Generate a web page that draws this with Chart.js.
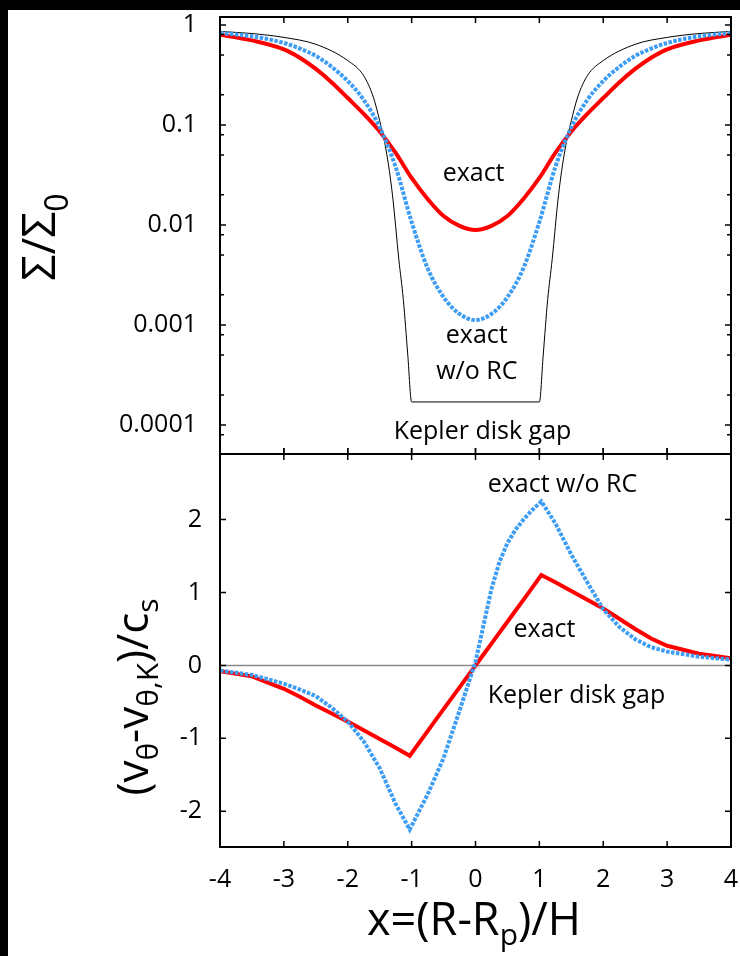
<!DOCTYPE html>
<html>
<head>
<meta charset="utf-8">
<script src="https://cdn.jsdelivr.net/npm/chart.js@4.4.1/dist/chart.umd.min.js"></script>
<style>
  body { margin: 0; background: #fff; width: 740px; height: 956px; position: relative; overflow: hidden; }
  #topBar { position: absolute; left: 0; top: 0; width: 740px; height: 10px; background: #000; }
  #leftBar { position: absolute; left: 0; top: 0; width: 8px; height: 956px; background: #000; }
  canvas { position: absolute; left: 0; }
</style>
</head>
<body>
<div id="topBar"></div>
<div id="leftBar"></div>
<canvas id="sigmaChart" width="740" height="454" style="top:0"></canvas>
<canvas id="velChart" width="740" height="516" style="top:440px"></canvas>
<script>
// x ticks shared by both panels
const xTickValues = [-4, -3, -2, -1, 0, 1, 2, 3, 4];
const xTickLabels = ["-4", "-3", "-2", "-1", "0", "1", "2", "3", "4"];

// top panel: surface density (log)
const sigmaTickValues = [1e-4, 1e-3, 1e-2, 0.1, 1];
const sigmaTickLabels = ["0.0001", "0.001", "0.01", "0.1", "1"];
const sigmaX = [-4, -3.5, -3, -2.75, -2.5, -2.25, -2, -1.75, -1.5, -1.25, -1, -0.75, -0.5, -0.25, 0, 0.25, 0.5, 0.75, 1, 1.25, 1.5, 1.75, 2, 2.25, 2.5, 2.75, 3, 3.5, 4];
const sigmaExact = [0.80, 0.70, 0.57, 0.47, 0.363, 0.266, 0.186, 0.129, 0.086, 0.0525, 0.0295, 0.0182, 0.0123, 0.0098, 0.0089, 0.0098, 0.0123, 0.0182, 0.0295, 0.0525, 0.086, 0.129, 0.186, 0.266, 0.363, 0.47, 0.57, 0.70, 0.80];
const sigmaNoRC = [0.83, 0.77, 0.66, 0.58, 0.49, 0.38, 0.275, 0.178, 0.095, 0.038, 0.0107, 0.0037, 0.0019, 0.00129, 0.00112, 0.00129, 0.0019, 0.0037, 0.0107, 0.038, 0.095, 0.178, 0.275, 0.38, 0.49, 0.58, 0.66, 0.77, 0.83];
const keplerX = [-4, -3.5, -3, -2.5, -2, -1.75, -1.6, -1.5, -1.4, -1.3, -1.2, -1.13, -1.06, -1, 1, 1.06, 1.13, 1.2, 1.3, 1.4, 1.5, 1.6, 1.75, 2, 2.5, 3, 3.5, 4];
const keplerSigma = [0.86, 0.82, 0.75, 0.64, 0.44, 0.31, 0.19, 0.11, 0.056, 0.02, 0.0045, 0.0018, 0.0005, 0.00017, 0.00017, 0.0005, 0.0018, 0.0045, 0.02, 0.056, 0.11, 0.19, 0.31, 0.44, 0.64, 0.75, 0.82, 0.86];

// bottom panel: azimuthal velocity deviation
const velTickValues = [-2, -1, 0, 1, 2];
const velTickLabels = ["-2", "-1", "0", "1", "2"];
const velX = [-4, -3.5, -3, -2.75, -2.5, -2.25, -2, -1.75, -1.5, -1.25, -1.03, -0.75, -0.5, -0.25, 0, 0.125, 0.25, 0.375, 0.5, 0.625, 0.75, 0.875, 1.03, 1.25, 1.5, 1.75, 2, 2.25, 2.5, 2.75, 3, 3.5, 4];
const velExact = [-0.08, -0.15, -0.32, -0.43, -0.55, -0.66, -0.77, -0.89, -1.01, -1.13, -1.24, -0.90, -0.60, -0.30, 0, 0.15, 0.30, 0.45, 0.60, 0.75, 0.90, 1.05, 1.24, 1.14, 1.02, 0.90, 0.78, 0.64, 0.50, 0.37, 0.27, 0.16, 0.10];
const velNoRC = [-0.07, -0.13, -0.25, -0.33, -0.42, -0.58, -0.77, -1.04, -1.41, -1.90, -2.25, -1.77, -1.27, -0.62, 0.05, 0.55, 1.05, 1.42, 1.68, 1.86, 2.0, 2.12, 2.25, 1.95, 1.52, 1.14, 0.77, 0.53, 0.36, 0.25, 0.19, 0.12, 0.08];

const FONT = '"Open Sans", "Noto Sans", sans-serif';
const RED = "#ff0000";
const BLUE = "#3d9df5";

Chart.defaults.font.family = FONT;
Chart.defaults.color = "#000";

const pts = (xs, ys) => xs.map((x, i) => ({ x: x, y: ys[i] }));

// draw text made of pieces: [text, size, dy]
function drawParts(ctx, parts, x, y, align) {
  let w = 0;
  parts.forEach(p => { ctx.font = p[1] + "px " + FONT; w += ctx.measureText(p[0]).width; });
  let cx = align === "center" ? x - w / 2 : x;
  ctx.textAlign = "left";
  ctx.textBaseline = "alphabetic";
  parts.forEach(p => {
    ctx.font = p[1] + "px " + FONT;
    ctx.fillText(p[0], cx, y + p[2]);
    cx += ctx.measureText(p[0]).width;
  });
}

// frame, inward ticks, labels
function makeDecor(cfg) {
  return {
    id: "decor",
    beforeDatasetsDraw(chart) {
      if (!cfg.zeroLine) return;
      const { ctx, chartArea: a, scales: { y } } = chart;
      ctx.save();
      ctx.strokeStyle = "#8a8a8a";
      ctx.lineWidth = 1.5;
      ctx.beginPath();
      ctx.moveTo(a.left, y.getPixelForValue(0));
      ctx.lineTo(a.right, y.getPixelForValue(0));
      ctx.stroke();
      ctx.restore();
    },
    afterDatasetsDraw(chart) {
      const { ctx, chartArea: a, scales: { x, y } } = chart;
      ctx.save();
      ctx.strokeStyle = "#000";
      ctx.lineWidth = 2;
      ctx.strokeRect(a.left, a.top, a.right - a.left, a.bottom - a.top);
      ctx.lineWidth = 1.5;
      ctx.beginPath();
      xTickValues.forEach(v => {
        const px = x.getPixelForValue(v);
        ctx.moveTo(px, a.top - (cfg.crossTop ? 6 : 0));
        ctx.lineTo(px, a.top + 6);
        ctx.moveTo(px, a.bottom);
        ctx.lineTo(px, a.bottom - 6);
      });
      cfg.yMajor.forEach(v => {
        const py = y.getPixelForValue(v);
        ctx.moveTo(a.left, py); ctx.lineTo(a.left + 6, py);
        ctx.moveTo(a.right, py); ctx.lineTo(a.right - 6, py);
      });
      (cfg.yMinor || []).forEach(v => {
        const py = y.getPixelForValue(v);
        if (py < a.top || py > a.bottom) return;
        ctx.moveTo(a.left, py); ctx.lineTo(a.left + 4, py);
        ctx.moveTo(a.right, py); ctx.lineTo(a.right - 4, py);
      });
      ctx.stroke();
      ctx.restore();
    },
    afterDraw(chart) {
      const { ctx, scales: { x, y } } = chart;
      ctx.save();
      ctx.fillStyle = "#000";
      cfg.notes.forEach(n => {
        drawParts(ctx, [[n.text, 25, 0]], x.getPixelForValue(n.x), y.getPixelForValue(n.y), n.align);
      });
      if (cfg.yTitle) {
        ctx.save();
        ctx.translate(cfg.yTitle.x, cfg.yTitle.y);
        ctx.rotate(-Math.PI / 2);
        drawParts(ctx, cfg.yTitle.parts, 0, 0, "center");
        ctx.restore();
      }
      if (cfg.xTitle) {
        drawParts(ctx, cfg.xTitle.parts, cfg.xTitle.x, cfg.xTitle.y, "center");
      }
      ctx.restore();
    }
  };
}

const minorLog = [];
[1e-5, 1e-4, 1e-3, 1e-2, 0.1].forEach(d => [2, 5, 8].forEach(m => minorLog.push(d * m)));

const lineDs = (label, data, color, width, extra) => Object.assign({
  label: label, data: data, borderColor: color, backgroundColor: color,
  borderWidth: width, pointRadius: 0, showLine: true, fill: false
}, extra);

new Chart(document.getElementById("sigmaChart"), {
  type: "scatter",
  data: {
    datasets: [
      lineDs("exact w/o RC", pts(sigmaX, sigmaNoRC), BLUE, 4, { borderDash: [3.5, 1.5], cubicInterpolationMode: "monotone" }),
      lineDs("exact", pts(sigmaX, sigmaExact), RED, 4, { cubicInterpolationMode: "monotone" }),
      lineDs("Kepler disk gap", pts(keplerX, keplerSigma), "#000", 1, { cubicInterpolationMode: "monotone" })
    ]
  },
  options: {
    responsive: false,
    animation: false,
    devicePixelRatio: 1,
    layout: { padding: { top: 17, right: 9, bottom: 0, left: 0 } },
    plugins: { legend: { display: false }, tooltip: { enabled: false } },
    scales: {
      x: { type: "linear", min: -4, max: 4, display: false },
      y: {
        type: "logarithmic", min: 5.13e-5, max: 1.2,
        afterBuildTicks: s => { s.ticks = sigmaTickValues.map(v => ({ value: v })); },
        afterFit: s => { s.width = 220; s.paddingTop = 0; s.paddingBottom = 0; },
        ticks: { font: { size: 25 }, padding: 23, callback: (v, i) => sigmaTickLabels[i] },
        grid: { display: false, drawTicks: false },
        border: { display: false }
      }
    }
  },
  plugins: [makeDecor({
    yMajor: sigmaTickValues,
    yMinor: minorLog,
    notes: [
      { text: "exact", x: -0.03, y: 0.0275, align: "center" },
      { text: "exact", x: 0.02, y: 6.6e-4, align: "center" },
      { text: "w/o RC", x: 0.02, y: 2.9e-4, align: "center" },
      { text: "Kepler disk gap", x: 0.11, y: 7.2e-5, align: "center" }
    ],
    yTitle: { x: 55, y: 237, parts: [["\u03A3/\u03A3", 46, 0], ["0", 32, 13]] }
  })]
});

new Chart(document.getElementById("velChart"), {
  type: "scatter",
  data: {
    datasets: [
      lineDs("exact w/o RC", pts(velX, velNoRC), BLUE, 4, { borderDash: [3.5, 1.5] }),
      lineDs("exact", pts(velX, velExact), RED, 4, {})
    ]
  },
  options: {
    responsive: false,
    animation: false,
    devicePixelRatio: 1,
    layout: { padding: { top: 14, right: 9, bottom: 0, left: 0 } },
    plugins: { legend: { display: false }, tooltip: { enabled: false } },
    scales: {
      x: {
        type: "linear", min: -4, max: 4,
        afterBuildTicks: s => { s.ticks = xTickValues.map(v => ({ value: v })); },
        afterFit: s => { s.height = 109; s.paddingLeft = 0; s.paddingRight = 0; },
        ticks: { font: { size: 25 }, padding: 18, maxRotation: 0, autoSkip: false, callback: (v, i) => xTickLabels[i] },
        grid: { display: false, drawTicks: false },
        border: { display: false }
      },
      y: {
        type: "linear", min: -2.49, max: 2.9,
        afterBuildTicks: s => { s.ticks = velTickValues.map(v => ({ value: v })); },
        afterFit: s => { s.width = 220; s.paddingTop = 0; s.paddingBottom = 0; },
        ticks: { font: { size: 25 }, padding: 18, callback: (v, i) => velTickLabels[i] },
        grid: { display: false, drawTicks: false },
        border: { display: false }
      }
    }
  },
  plugins: [makeDecor({
    zeroLine: true,
    crossTop: true,
    yMajor: velTickValues,
    notes: [
      { text: "exact w/o RC", x: 0.19, y: 2.38, align: "left" },
      { text: "exact", x: 1.08, y: 0.385, align: "center" },
      { text: "Kepler disk gap", x: 0.19, y: -0.51, align: "left" }
    ],
    yTitle: { x: 148, y: 257, parts: [["(v", 44, 0], ["\u03B8", 30, 10], ["-v", 44, 0], ["\u03B8,K", 30, 10], [")/c", 44, 0], ["s", 30, 10]] },
    xTitle: { x: 474, y: 495, parts: [["x=(R-R", 45, 0], ["p", 30, 10], [")/H", 45, 0]] }
  })]
});
</script>
</body>
</html>
